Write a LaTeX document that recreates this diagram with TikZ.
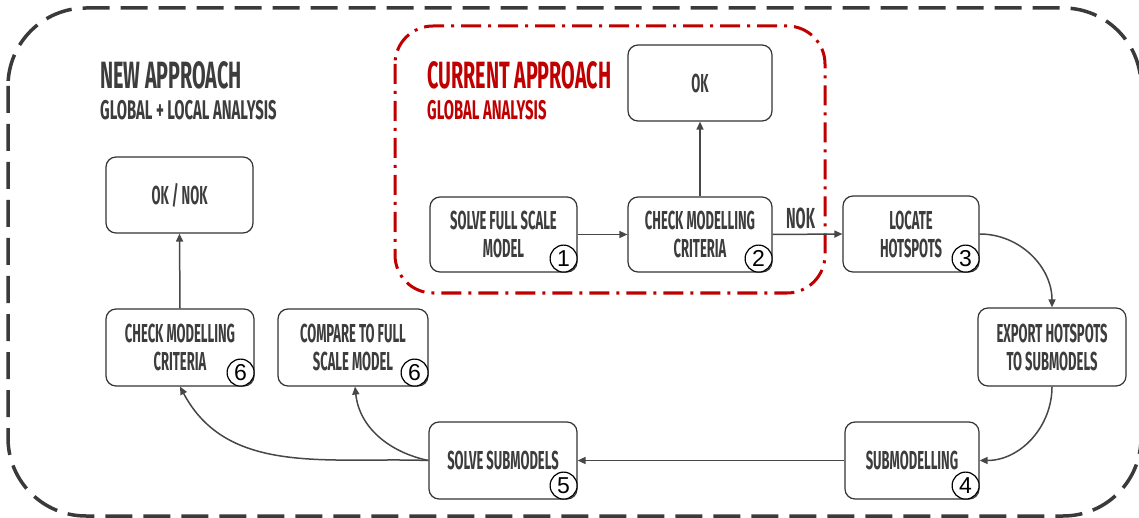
\documentclass[tikz,border=0pt]{standalone}
\usepackage{fontspec}
\newfontfamily\cond{Fira Sans}[FakeStretch=0.5]
\newfontfamily\condt{Fira Sans}[FakeStretch=0.52]
\newfontfamily\condw{Fira Sans}[FakeStretch=0.55]
\newfontfamily\digitfont{Liberation Sans}
\usetikzlibrary{arrows.meta,calc}
\definecolor{txt}{HTML}{3D3D3D}
\definecolor{redc}{HTML}{C00000}
\definecolor{ln}{HTML}{333333}
\definecolor{outerc}{HTML}{3A3A3A}
\begin{document}
\begin{tikzpicture}[x=1pt,y=-1pt,
  box/.style={draw=ln, line width=1.2pt, rounded corners=10pt, fill=white,
    align=center, text=txt, inner sep=2pt,
    font=\cond\bfseries\fontsize{26}{28}\selectfont},
  num/.style={draw=black, line width=1.2pt, circle, fill=white, inner sep=0pt,
    minimum size=27pt, font=\digitfont\fontsize{23}{23}\selectfont},
  conn/.style={draw=ln!90, line width=1.5pt, -{Triangle[length=8pt,width=7pt]}},
  bigtitle/.style={anchor=base west, inner sep=0pt, font=\condt\bfseries\fontsize{38}{38}\selectfont},
  subtitle/.style={anchor=base west, inner sep=0pt, font=\condw\bfseries\fontsize{27}{27}\selectfont},
  lbl/.style={inner sep=0pt, text=txt, font=\cond\bfseries\fontsize{29}{29}\selectfont}
]
\useasboundingbox (0,0) rectangle (1139,518);
% outer dashed frame
\draw[outerc, line width=3.5pt, rounded corners=78pt, dash pattern=on 27pt off 11pt]
  (8,8) rectangle (1141,516);
% red dash-dot frame
\draw[redc, line width=3pt, rounded corners=38pt, dash pattern=on 20pt off 7pt on 3pt off 7pt]
  (395,26) rectangle (825,293);
% titles
\node[bigtitle, text=txt] (t1) at (100,89) {NEW APPROACH};
\node[subtitle, text=txt] (t2) at (100,120) {GLOBAL + LOCAL ANALYSIS};
\node[bigtitle, text=redc] (t3) at (427,89) {CURRENT APPROACH};
\node[subtitle, text=redc] (t4) at (427,120) {GLOBAL ANALYSIS};
% boxes
\node[box, minimum width=147pt, minimum height=75pt] (b1) at (503.5,234.5) {SOLVE FULL SCALE\\MODEL};
\node[box, minimum width=144pt, minimum height=75pt] (b2) at (700,234.5) {CHECK MODELLING\\CRITERIA};
\node[box, minimum width=144pt, minimum height=76pt] (ok) at (700,83) {OK};
\node[box, minimum width=136pt, minimum height=76pt] (b3) at (911,234) {LOCATE\\HOTSPOTS};
\node[box, minimum width=148pt, minimum height=78pt] (ex) at (1052,347) {EXPORT HOTSPOTS\\TO SUBMODELS};
\node[box, minimum width=134pt, minimum height=77pt] (sub) at (912,460.5) {SUBMODELLING};
\node[box, minimum width=148pt, minimum height=77pt] (sol) at (503,460.5) {SOLVE SUBMODELS};
\node[box, minimum width=148pt, minimum height=77pt] (chk) at (180,347.5) {CHECK MODELLING\\CRITERIA};
\node[box, minimum width=150pt, minimum height=77pt] (cmp) at (353,347.5) {COMPARE TO FULL\\SCALE MODEL};
\node[box, minimum width=147pt, minimum height=76pt] (onok) at (179.5,195) {OK / NOK};
% circled numbers
\node[num] (c1) at ($(b1.south east)+(-14,-14)$) {1};
\node[num] (c2) at ($(b2.south east)+(-14,-14)$) {2};
\node[num] (c3) at ($(b3.south east)+(-14,-14)$) {3};
\node[num] (c4) at ($(sub.south east)+(-14,-14)$) {4};
\node[num] (c5) at ($(sol.south east)+(-14,-14)$) {5};
\node[num] (c6) at ($(chk.south east)+(-14,-14)$) {6};
\node[num] (c7) at ($(cmp.south east)+(-14,-14)$) {6};
% connectors
\draw[conn] (b1.east) -- (b2.west);
\draw[conn] (b2.north) -- (ok.south);
\draw[conn] (b2.east) -- node[lbl, pos=0.4, above=5pt] (nok) {NOK} (b3.west);
\draw[conn] (b3.east) to[out=0,in=90] (ex.north);
\draw[conn] (ex.south) to[out=-90,in=0] (sub.east);
\draw[conn] (sub.west) -- (sol.east);
\draw[conn] (sol.west) to[out=178,in=-62] (chk.south);
\draw[conn] (sol.west) to[out=168,in=-84] ($(cmp.south)+(2,0)$);
\draw[conn] (chk.north) -- (onok.south);
\end{tikzpicture}
\end{document}
